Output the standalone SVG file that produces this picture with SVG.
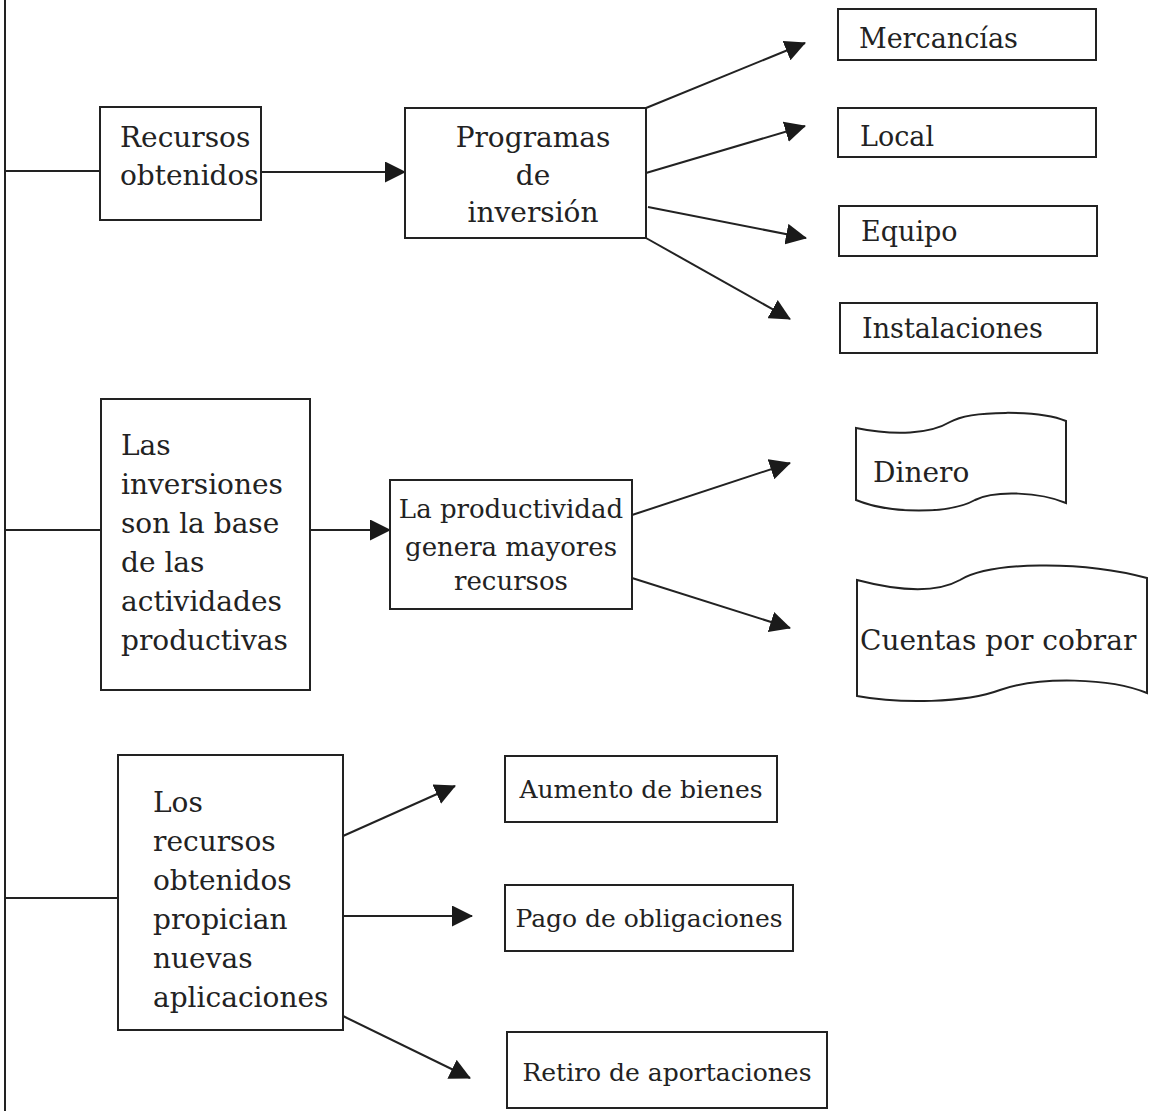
<svg xmlns="http://www.w3.org/2000/svg" width="1149" height="1111" viewBox="0 0 1149 1111">
<style>
.box{fill:#fff;stroke:#222;stroke-width:2}
.ln{fill:none;stroke:#222;stroke-width:2}
text{font-family:"DejaVu Serif","Liberation Serif",serif;fill:#222}
.t28{font-size:28px}
.t27{font-size:27px}
.t26{font-size:26px}
.t25{font-size:25px}
.c{text-anchor:middle}
</style>
<defs>
<marker id="ah" viewBox="0 0 21 21" refX="20" refY="10.5" markerWidth="21" markerHeight="21" markerUnits="userSpaceOnUse" orient="auto">
<path d="M0,0 L21,10.5 L0,21 z" fill="#1a1a1a"/>
</marker>
</defs>
<rect width="1149" height="1111" fill="#fff"/>
<g id="connectors">
<line class="ln" x1="5" y1="0" x2="5" y2="1111"/>
<line class="ln" x1="5" y1="171" x2="100" y2="171"/>
<line class="ln" x1="261" y1="172" x2="405" y2="172" marker-end="url(#ah)"/>
<line class="ln" x1="646" y1="108" x2="805" y2="43" marker-end="url(#ah)"/>
<line class="ln" x1="646" y1="173" x2="805" y2="126" marker-end="url(#ah)"/>
<line class="ln" x1="648" y1="207" x2="806" y2="238" marker-end="url(#ah)"/>
<line class="ln" x1="646" y1="238" x2="790" y2="319" marker-end="url(#ah)"/>
<line class="ln" x1="5" y1="530" x2="101" y2="530"/>
<line class="ln" x1="310" y1="530" x2="390" y2="530" marker-end="url(#ah)"/>
<line class="ln" x1="632" y1="515" x2="790" y2="463" marker-end="url(#ah)"/>
<line class="ln" x1="632" y1="578" x2="790" y2="628" marker-end="url(#ah)"/>
<line class="ln" x1="5" y1="898" x2="118" y2="898"/>
<line class="ln" x1="343" y1="836" x2="455" y2="786" marker-end="url(#ah)"/>
<line class="ln" x1="343" y1="916" x2="472" y2="916" marker-end="url(#ah)"/>
<line class="ln" x1="343" y1="1016" x2="470" y2="1078" marker-end="url(#ah)"/>
</g>
<g id="recursos">
<rect class="box" x="100" y="107" width="161" height="113"/>
<text class="t28" x="120" y="147">Recursos</text>
<text class="t28" x="120" y="185">obtenidos</text>
</g>
<g id="programas">
<rect class="box" x="405" y="108" width="241" height="130"/>
<text class="t28 c" x="533" y="147">Programas</text>
<text class="t28 c" x="533" y="185">de</text>
<text class="t28 c" x="533" y="222">inversión</text>
</g>
<g id="mercancias">
<rect class="box" x="838" y="9" width="258" height="51"/>
<text class="t27" x="859" y="48">Mercancías</text>
</g>
<g id="local">
<rect class="box" x="838" y="108" width="258" height="49"/>
<text class="t27" x="860" y="146">Local</text>
</g>
<g id="equipo">
<rect class="box" x="839" y="206" width="258" height="50"/>
<text class="t27" x="861" y="241">Equipo</text>
</g>
<g id="instalaciones">
<rect class="box" x="840" y="303" width="257" height="50"/>
<text class="t27" x="862" y="338">Instalaciones</text>
</g>
<g id="inversiones">
<rect class="box" x="101" y="399" width="209" height="291"/>
<text class="t28" x="121" y="455">Las</text>
<text class="t28" x="121" y="494">inversiones</text>
<text class="t28" x="121" y="533">son la base</text>
<text class="t28" x="121" y="572">de las</text>
<text class="t28" x="121" y="611">actividades</text>
<text class="t28" x="121" y="650">productivas</text>
</g>
<g id="productividad">
<rect class="box" x="390" y="480" width="242" height="129"/>
<text class="t26 c" x="511" y="518">La productividad</text>
<text class="t26 c" x="511" y="556">genera mayores</text>
<text class="t26 c" x="511" y="590">recursos</text>
</g>
<g id="dinero">
<path class="box" d="M856,428 C895,436 930,434 950,422 C970,410 1040,410 1066,421 L1066,503 C1040,492 995,490 975,500 C950,514 890,514 856,500 Z"/>
<text class="t28" x="873" y="482">Dinero</text>
</g>
<g id="cuentas">
<path class="box" d="M857,580 C895,590 935,594 960,580 C990,562 1080,560 1147,578 L1147,693 C1110,678 1040,676 1000,690 C965,703 900,704 857,696 Z"/>
<text class="t28" x="860" y="650">Cuentas por cobrar</text>
</g>
<g id="los-recursos">
<rect class="box" x="118" y="755" width="225" height="275"/>
<text class="t28" x="153" y="812">Los</text>
<text class="t28" x="153" y="851">recursos</text>
<text class="t28" x="153" y="890">obtenidos</text>
<text class="t28" x="153" y="929">propician</text>
<text class="t28" x="153" y="968">nuevas</text>
<text class="t28" x="153" y="1007">aplicaciones</text>
</g>
<g id="aumento">
<rect class="box" x="505" y="756" width="272" height="66"/>
<text class="t25 c" x="641" y="798">Aumento de bienes</text>
</g>
<g id="pago">
<rect class="box" x="505" y="885" width="288" height="66"/>
<text class="t25 c" x="649" y="927">Pago de obligaciones</text>
</g>
<g id="retiro">
<rect class="box" x="507" y="1032" width="320" height="76"/>
<text class="t25 c" x="667" y="1081">Retiro de aportaciones</text>
</g>
</svg>
